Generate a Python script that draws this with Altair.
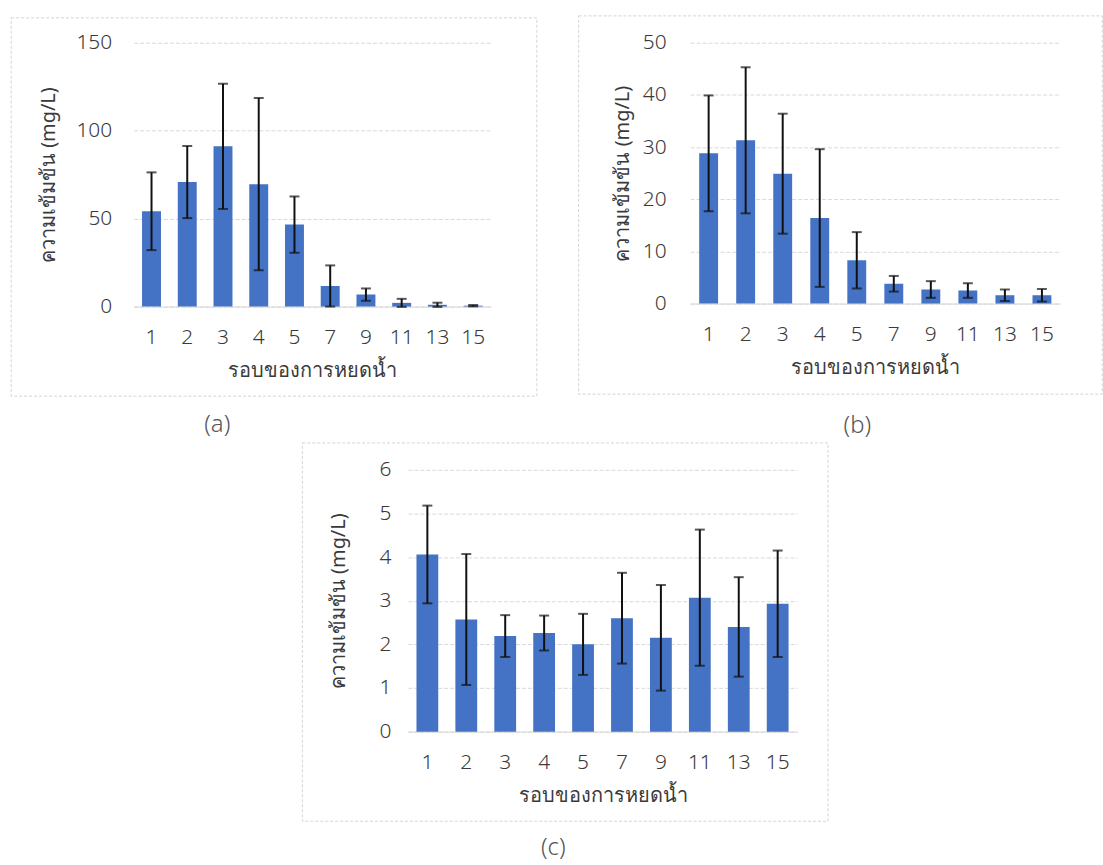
import altair as alt
import pandas as pd

# Rounds of water dripping (x categories)
rounds = ["1", "2", "3", "4", "5", "7", "9", "11", "13", "15"]

# (a) concentration mean and SD, mg/L
a_mean = [54.2, 70.8, 91.1, 69.6, 46.6, 11.7, 6.8, 2.1, 1.0, 0.5]
a_sd = [22.1, 20.5, 35.6, 49.0, 16.0, 11.7, 3.5, 2.3, 1.2, 0.4]

# (b) concentration mean and SD, mg/L
b_mean = [28.8, 31.3, 24.9, 16.4, 8.3, 3.8, 2.7, 2.5, 1.6, 1.6]
b_sd = [11.1, 14.0, 11.5, 13.2, 5.4, 1.5, 1.6, 1.4, 1.1, 1.2]

# (c) concentration mean and SD, mg/L
c_mean = [4.06, 2.57, 2.19, 2.26, 2.00, 2.60, 2.15, 3.07, 2.40, 2.93]
c_sd = [1.12, 1.50, 0.48, 0.40, 0.70, 1.04, 1.21, 1.56, 1.14, 1.22]

# y-axis ticks per panel
a_ticks = [0, 50, 100, 150]
b_ticks = [0, 10, 20, 30, 40, 50]
c_ticks = [0, 1, 2, 3, 4, 5, 6]

X_TITLE = "รอบของการหยดน้ำ"
Y_TITLE = "ความเข้มข้น (mg/L)"
FONT = "Noto Sans"
BAR = "#4472C4"
INK = "#3a3a3a"


def panel(mean, sd, ticks, width, height, pad_inner, label_pad, title_x,
          frame, tag, tag_pos):
    df = pd.DataFrame({
        "round": rounds,
        "mean": mean,
        "lo": [m - s for m, s in zip(mean, sd)],
        "hi": [m + s for m, s in zip(mean, sd)],
    })
    xscale = alt.Scale(paddingInner=pad_inner, paddingOuter=pad_inner / 2)
    xaxis = alt.Axis(
        title=X_TITLE, labelAngle=0, ticks=False, domainColor="#d6d6d6",
        labelPadding=20, labelFontSize=21, labelColor=INK, labelFont=FONT,
        labelFontWeight=300,
        titleFontSize=20, titleFontWeight="normal", titleColor=INK,
        titleFont=FONT, titleY=64, titleBaseline="middle",
    )
    yscale = alt.Scale(domain=[ticks[0], ticks[-1]], nice=False)
    yaxis = alt.Axis(
        title=Y_TITLE, values=ticks, grid=True, gridColor="#d9d9d9",
        gridDash=[4, 2], domain=False, ticks=False, labelPadding=label_pad,
        labelFontSize=21, labelColor=INK, labelFont=FONT, labelFontWeight=300,
        titleFontSize=20, titleFontWeight="normal", titleColor=INK,
        titleFont=FONT, titleX=title_x, titleBaseline="middle",
    )
    x = alt.X("round:N", sort=rounds, scale=xscale, axis=xaxis)
    base = alt.Chart(df)
    bars = base.mark_bar(color=BAR).encode(
        x=x, y=alt.Y("mean:Q", scale=yscale, axis=yaxis))
    stems = base.mark_rule(color="#111111", strokeWidth=2).encode(
        x=x, y=alt.Y("lo:Q", scale=yscale, axis=yaxis), y2="hi:Q")
    cap_hi = base.mark_tick(color="#111111", size=10, thickness=2).encode(
        x=x, y=alt.Y("hi:Q", scale=yscale, axis=yaxis))
    cap_lo = base.mark_tick(color="#111111", size=10, thickness=2).encode(
        x=x, y=alt.Y("lo:Q", scale=yscale, axis=yaxis))
    one = alt.Chart(pd.DataFrame({"k": [0]}))
    box = one.mark_rect(fillOpacity=0, stroke="#d4d4d4", strokeWidth=1,
                        strokeDash=[3, 2]).encode(
        x=alt.value(frame[0]), x2=alt.value(frame[1]),
        y=alt.value(frame[2]), y2=alt.value(frame[3]))
    label = one.mark_text(text=tag, fontSize=24, font=FONT, fontWeight=300,
                          color="#555555", baseline="middle").encode(
        x=alt.value(tag_pos[0]), y=alt.value(tag_pos[1]))
    return alt.layer(box, bars, stems, cap_hi, cap_lo, label).properties(
        width=width, height=height)


pa = panel(a_mean, a_sd, a_ticks, 359, 265, 0.47, 22, -86,
           (-123, 405, -25, 355), "(a)", (84, 384))
pb = panel(b_mean, b_sd, b_ticks, 372, 262, 0.49, 24, -68,
           (-112, 414, -27, 353), "(b)", (168, 385))
pc = panel(c_mean, c_sd, c_ticks, 391, 263, 0.44, 17, -70,
           (-106, 422, -27, 353), "(c)", (146, 380))

chart = alt.vconcat(
    alt.hconcat(pa, pb, spacing=40),
    pc,
    spacing=4,
    center=True,
).properties(
    padding={"left": 10, "top": 13, "right": 0, "bottom": 0},
    background="white",
).configure_view(stroke=None)

chart.save("out.html", embed_options={"renderer": "svg", "actions": False})
